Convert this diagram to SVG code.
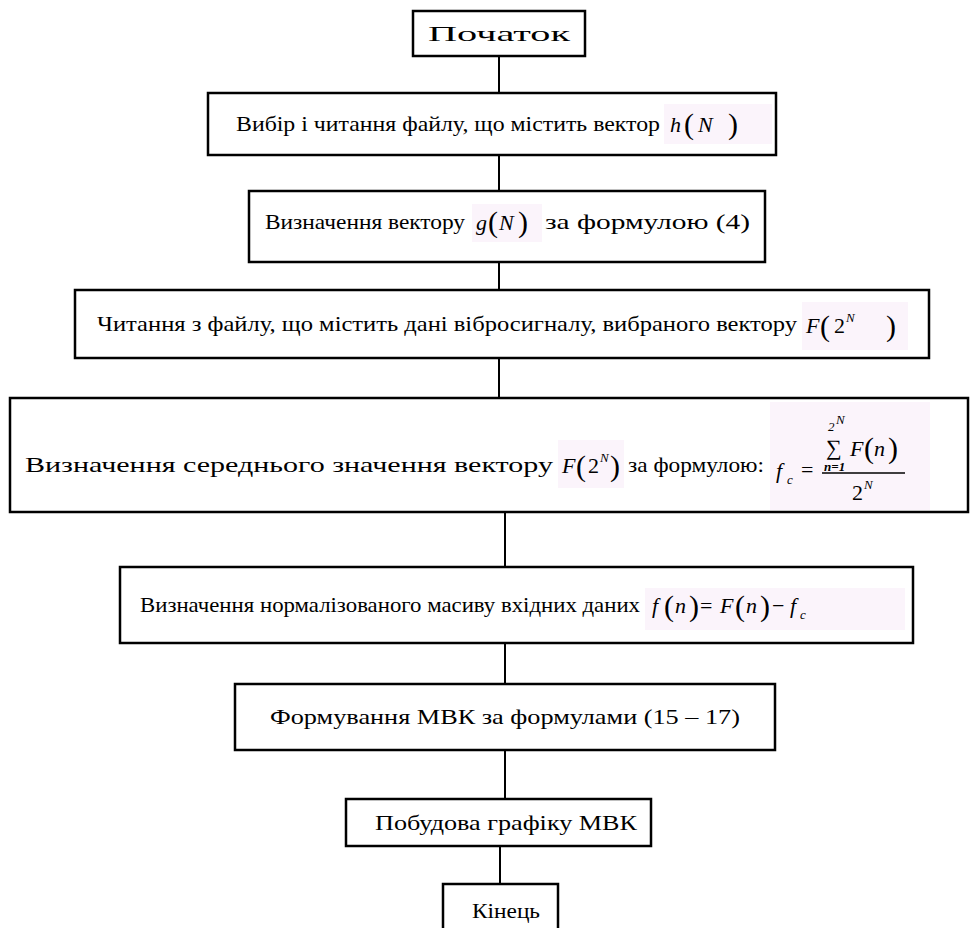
<svg xmlns="http://www.w3.org/2000/svg" width="976" height="928" viewBox="0 0 976 928">
<style>
.box{fill:#fff;stroke:#000;stroke-width:2.5}
.t{font-family:"Liberation Serif","DejaVu Serif","Times New Roman",serif;font-size:21px;fill:#000}
.m{font-family:"Liberation Serif","DejaVu Serif","Times New Roman",serif;font-style:italic;font-size:22px;fill:#000}
.mu{font-family:"Liberation Serif","DejaVu Serif","Times New Roman",serif;font-size:22px;fill:#000}
.p{font-family:"Liberation Serif","DejaVu Serif","Times New Roman",serif;font-size:30px;fill:#000}
.s{font-family:"Liberation Serif","DejaVu Serif","Times New Roman",serif;font-style:italic;font-size:13px;fill:#000}
.bg{fill:#fbf4fb}
.c{stroke:#000;stroke-width:2;fill:none}
</style>
<rect width="976" height="928" fill="#fff"/>
<g id="connectors">
<line class="c" x1="499" y1="56" x2="499" y2="93"/>
<line class="c" x1="499" y1="155" x2="499" y2="191"/>
<line class="c" x1="499" y1="262" x2="499" y2="290"/>
<line class="c" x1="499" y1="358" x2="499" y2="398"/>
<line class="c" x1="505" y1="512" x2="505" y2="567"/>
<line class="c" x1="505" y1="643" x2="505" y2="684"/>
<line class="c" x1="505" y1="750" x2="505" y2="799"/>
<line class="c" x1="500" y1="846" x2="500" y2="884"/>
</g>
<g id="start">
<rect class="box" x="413" y="11" width="172" height="45"/>
<text class="t" x="428" y="41" textLength="142" lengthAdjust="spacingAndGlyphs">Початок</text>
</g>
<g id="read-h">
<rect class="box" x="208" y="93" width="568" height="62"/>
<text class="t" x="236" y="131" textLength="424" lengthAdjust="spacingAndGlyphs">Вибір і читання файлу, що містить вектор</text>
<rect class="bg" x="664" y="104" width="108" height="40"/>
<text class="m" x="670" y="132" font-size="24">h</text>
<text class="p" x="684" y="134" font-size="32">(</text>
<text class="m" x="698" y="132" font-size="26">N</text>
<text class="p" x="728" y="134" font-size="32">)</text>
</g>
<g id="calc-g">
<rect class="box" x="249" y="191" width="516" height="71"/>
<text class="t" x="265" y="229" textLength="200" lengthAdjust="spacingAndGlyphs">Визначення вектору</text>
<rect class="bg" x="472" y="204" width="70" height="38"/>
<text class="m" x="476" y="230">g</text>
<text class="p" x="488" y="232">(</text>
<text class="m" x="499" y="230">N</text>
<text class="p" x="518" y="232">)</text>
<text class="t" x="545" y="229" textLength="205" lengthAdjust="spacingAndGlyphs">за формулою (4)</text>
</g>
<g id="read-F">
<rect class="box" x="75" y="290" width="854" height="68"/>
<text class="t" x="97" y="331" textLength="700" lengthAdjust="spacingAndGlyphs">Читання з файлу, що містить дані вібросигналу, вибраного вектору</text>
<rect class="bg" x="802" y="302" width="106" height="48"/>
<text class="m" x="806" y="333">F</text>
<text class="p" x="820" y="336">(</text>
<text class="mu" x="834" y="333">2</text>
<text class="s" x="846" y="322">N</text>
<text class="p" x="886" y="336">)</text>
</g>
<g id="mean">
<rect class="box" x="10" y="398" width="958" height="114"/>
<text class="t" x="25" y="472" textLength="528" lengthAdjust="spacingAndGlyphs">Визначення середнього значення вектору</text>
<rect class="bg" x="558" y="440" width="66" height="48"/>
<text class="m" x="562" y="473">F</text>
<text class="p" x="576" y="476">(</text>
<text class="mu" x="588" y="473">2</text>
<text class="s" x="600" y="462">N</text>
<text class="p" x="610" y="476">)</text>
<text class="t" x="628" y="472" textLength="136" lengthAdjust="spacingAndGlyphs">за формулою:</text>
<rect class="bg" x="770" y="402" width="160" height="108"/>
<text class="m" x="776" y="478">f</text>
<text class="s" x="787" y="484" font-style="normal">с</text>
<text class="mu" x="801" y="477">=</text>
<text class="s" x="828" y="431" font-style="normal" font-size="11">2</text>
<text class="s" x="836" y="424" font-size="9">N</text>
<text class="mu" x="826" y="455" font-size="20">∑</text>
<text class="m" x="850" y="456">F</text>
<text class="p" x="864" y="458" font-size="26">(</text>
<text class="m" x="874" y="456">n</text>
<text class="p" x="888" y="458" font-size="26">)</text>
<text class="s" x="824" y="471" font-style="normal" font-size="8" font-weight="bold">n=1</text>
<line x1="822" y1="473" x2="905" y2="473" stroke="#000" stroke-width="1.5"/>
<text class="mu" x="852" y="500">2</text>
<text class="s" x="864" y="489">N</text>
</g>
<g id="normalize">
<rect class="box" x="120" y="567" width="793" height="76"/>
<text class="t" x="140" y="612" textLength="500" lengthAdjust="spacingAndGlyphs">Визначення нормалізованого масиву вхідних даних</text>
<rect class="bg" x="645" y="588" width="260" height="42"/>
<text class="m" x="652" y="613">f</text>
<text class="p" x="664" y="616">(</text>
<text class="m" x="675" y="613">n</text>
<text class="p" x="689" y="616">)</text>
<text class="mu" x="700" y="613">=</text>
<text class="m" x="720" y="613">F</text>
<text class="p" x="735" y="616">(</text>
<text class="m" x="746" y="613">n</text>
<text class="p" x="760" y="616">)</text>
<text class="mu" x="772" y="613">−</text>
<text class="m" x="790" y="613">f</text>
<text class="s" x="800" y="619" font-style="normal">с</text>
</g>
<g id="form-mvk">
<rect class="box" x="235" y="684" width="540" height="66"/>
<text class="t" x="270" y="724" textLength="470" lengthAdjust="spacingAndGlyphs">Формування МВК за формулами (15 – 17)</text>
</g>
<g id="plot">
<rect class="box" x="346" y="799" width="305" height="47"/>
<text class="t" x="375" y="830" textLength="262" lengthAdjust="spacingAndGlyphs">Побудова графіку МВК</text>
</g>
<g id="end">
<rect class="box" x="443" y="884" width="115" height="50"/>
<text class="t" x="472" y="918" textLength="68" lengthAdjust="spacingAndGlyphs">Кінець</text>
</g>
</svg>
